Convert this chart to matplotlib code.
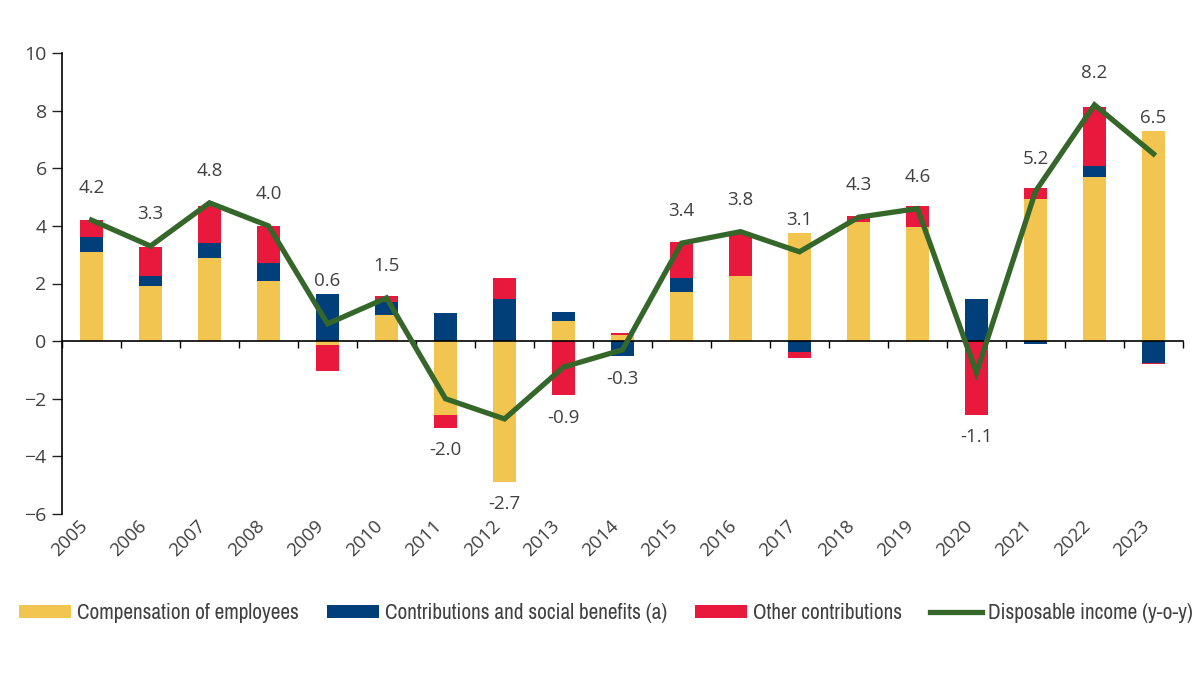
import os
import matplotlib
matplotlib.use("Agg")
import matplotlib.pyplot as plt
from matplotlib import font_manager as fm
import numpy as np

years = [str(y) for y in range(2005, 2024)]

compensation = [3.1, 1.9, 2.9, 2.1, -0.15, 0.9, -2.55, -4.88, 0.7, 0.22,
                1.72, 2.27, 3.75, 4.15, 3.97, 0.0, 4.93, 5.68, 7.29]
contributions = [0.5, 0.37, 0.5, 0.6, 1.63, 0.45, 0.98, 1.45, 0.3, -0.53,
                 0.48, 0.0, -0.38, 0.0, 0.0, 1.45, -0.1, 0.4, -0.77]
other = [0.6, 1.0, 1.3, 1.3, -0.88, 0.2, -0.45, 0.73, -1.88, 0.06,
         1.25, 1.5, -0.2, 0.18, 0.72, -2.55, 0.39, 2.06, -0.03]
disposable = [4.2, 3.3, 4.8, 4.0, 0.6, 1.5, -2.0, -2.7, -0.9, -0.3,
              3.4, 3.8, 3.1, 4.3, 4.6, -1.1, 5.2, 8.2, 6.5]

series = [
    ("Compensation of employees", compensation, "#F1C54F"),
    ("Contributions and social benefits (a)", contributions, "#003F7A"),
    ("Other contributions", other, "#E8193C"),
]

plt.rcParams["font.family"] = ["Open Sans", "DejaVu Sans"]
text_col = "#404040"

# the legend uses a condensed face; pick the narrowest regular one installed
stretch_rank = {"ultra-condensed": 9, "extra-condensed": 9, "condensed": 0,
                "semi-condensed": 1, 300: 0, 400: 1, 100: 9, 200: 9}
cands = []
for f in fm.fontManager.ttflist:
    base = os.path.basename(f.fname)
    if f.style != "normal" or f.weight not in (400, "normal", "regular"):
        continue
    if "Mono" in base or "Serif" in base:
        continue
    rank = stretch_rank.get(f.stretch)
    if rank is None:
        if "SemiCondensed" in base:
            rank = 1
        elif "ExtraCondensed" in base:
            rank = 9
        elif "Condensed" in base or "Narrow" in base:
            rank = 0
        else:
            continue
    cands.append((rank, base, f.fname))
cands.sort()
if cands and cands[0][0] == 0:
    legend_prop = fm.FontProperties(fname=cands[0][2], size=15.3)
elif cands:
    legend_prop = fm.FontProperties(fname=cands[0][2], size=13.5)
else:
    legend_prop = fm.FontProperties(family="Liberation Sans", size=12)

fig = plt.figure(figsize=(12, 6.75), dpi=100)
ax = fig.add_axes([62 / 1200, 1 - 514 / 675, 1121 / 1200, 461 / 675])

x = np.arange(len(years))
width = 0.4
pos_base = np.zeros(len(years))
neg_base = np.zeros(len(years))
for label, vals, color in series:
    v = np.array(vals)
    base = np.where(v >= 0, pos_base, neg_base)
    ax.bar(x, v, width=width, bottom=base, color=color, label=label, zorder=2)
    pos_base += np.where(v >= 0, v, 0)
    neg_base += np.where(v < 0, v, 0)

ax.plot(x, disposable, color="#35672B", lw=3.8, zorder=3,
        label="Disposable income (y-o-y)", solid_joinstyle="miter")

# value labels
for i, val in enumerate(disposable):
    if val >= 0:
        y = max(val + 1.11, pos_base[i] + 0.45)
    else:
        y = neg_base[i] - 0.78
    ax.text(x[i], y, f"{val:.1f}", ha="center", va="center",
            fontsize=13.5, color=text_col, zorder=4)

ax.set_xlim(-0.5, len(years) - 0.5)
ax.set_ylim(-6, 10)
ax.set_yticks(range(-6, 11, 2))
ax.tick_params(axis="y", direction="out", length=7, width=1, colors="#222222",
               labelcolor=text_col, labelsize=14, pad=4)

for s in ["top", "right"]:
    ax.spines[s].set_visible(False)
ax.spines["left"].set_linewidth(1.2)
ax.spines["bottom"].set_position(("data", 0))
ax.spines["bottom"].set_linewidth(1.2)
ax.set_xticks(x)
ax.set_xticks(np.arange(len(years) + 1) - 0.5, minor=True)
ax.tick_params(axis="x", which="major", length=0, labelbottom=False)
ax.tick_params(axis="x", which="minor", direction="out", length=5, width=1)

sec = ax.secondary_xaxis(0)
sec.spines["bottom"].set_visible(False)
sec.set_xticks(x)
sec.set_xticklabels(years, rotation=45, ha="right", fontsize=13.5, color=text_col)
sec.tick_params(axis="x", length=0, pad=2)

handles, labels = ax.get_legend_handles_labels()
handles = handles[1:] + handles[:1]
labels = labels[1:] + labels[:1]
fig.legend(handles, labels, loc="center left", bbox_to_anchor=(19 / 1200, 0.092),
           ncol=4, frameon=False, borderpad=0, borderaxespad=0,
           handlelength=2.45, handleheight=0.56,
           handletextpad=0.3, columnspacing=1.3, prop=legend_prop,
           labelcolor=text_col)

fig.savefig("out.png", dpi=100, facecolor="white")
